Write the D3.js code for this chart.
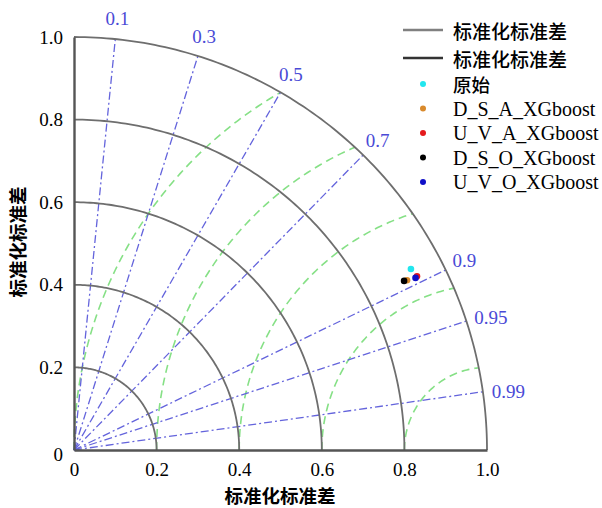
<!DOCTYPE html>
<html>
<head>
<meta charset="utf-8">
<script src="https://cdn.jsdelivr.net/npm/d3@7"></script>
<style>
  html, body { margin: 0; padding: 0; background: #fff; }
  svg { display: block; }
</style>
</head>
<body>
<svg id="chart" width="602" height="508"></svg>
<script>
// ---- data ----
const stdTickValues = [0, 0.2, 0.4, 0.6, 0.8, 1.0];
const stdTickLabels = ["0", "0.2", "0.4", "0.6", "0.8", "1.0"];
const stdArcValues = [0.2, 0.4, 0.6, 0.8, 1.0];
const corrValues = [0.1, 0.3, 0.5, 0.7, 0.9, 0.95, 0.99];
const corrLabels = ["0.1", "0.3", "0.5", "0.7", "0.9", "0.95", "0.99"];
const rmsRadii = [0.2, 0.4, 0.6, 0.8, 1.0];
const modelNames = ["原始", "D_S_A_XGboost", "U_V_A_XGboost", "D_S_O_XGboost", "U_V_O_XGboost"];
const modelStd = [0.926, 0.905, 0.931, 0.898, 0.926];
const modelCorr = [0.881, 0.891, 0.892, 0.890, 0.893];
const modelColors = ["#22e6ee", "#d98a2c", "#e41a1c", "#000000", "#1010c8"];
const axisTitle = "标准化标准差";
const legendLineNames = ["标准化标准差", "标准化标准差"];

// ---- layout ----
const svg = d3.select("#chart");
const x = d3.scaleLinear().domain([0, 1]).range([74, 487]);
const y = d3.scaleLinear().domain([0, 1]).range([450, 37]);
const serif = "'Liberation Serif', 'Times New Roman', serif";
const cjk = "'Noto Sans CJK SC', sans-serif";
const polar = (r, c) => [x(r * c), y(r * Math.sqrt(1 - c * c))];
const line = d3.line();

// green RMS arcs centred at (1,0)
const g = svg.append("g");
rmsRadii.forEach(R => {
  const phi0 = Math.acos(-R / 2);
  const pts = d3.range(0, 101).map(i => {
    const phi = Math.PI - (Math.PI - phi0) * i / 100;
    return [x(1 + R * Math.cos(phi)), y(R * Math.sin(phi))];
  });
  g.append("path").attr("d", line(pts))
    .attr("fill", "none").attr("stroke", "#86e086").attr("stroke-width", 1.6)
    .attr("stroke-dasharray", "8,5");
});

// correlation lines
corrValues.forEach((c, i) => {
  const p0 = polar(0, c), p1 = polar(1, c);
  g.append("path").attr("d", line([p0, p1]))
    .attr("fill", "none").attr("stroke", "#6464dc").attr("stroke-width", 1.3)
    .attr("stroke-dasharray", "8,3,2,3");
  const lp = polar(1.05, c);
  g.append("text").attr("x", lp[0] + (c > 0.92 ? 5 : 0)).attr("y", lp[1] + (c > 0.92 ? 3 : 0))
    .attr("text-anchor", "middle").attr("dominant-baseline", "central")
    .attr("font-family", serif).attr("font-size", 19).attr("fill", "#4a4ad6")
    .text(corrLabels[i]);
});

// std arcs
stdArcValues.forEach(r => {
  const pts = d3.range(0, 121).map(i => {
    const a = (Math.PI / 2) * i / 120;
    return [x(r * Math.cos(a)), y(r * Math.sin(a))];
  });
  g.append("path").attr("d", line(pts))
    .attr("fill", "none").attr("stroke", "#6e6e6e").attr("stroke-width", 1.8);
});

// axes
const xAxis = d3.axisBottom(x).tickValues(stdTickValues)
  .tickFormat((d, i) => stdTickLabels[i]).tickSize(0).tickPadding(13);
const yAxis = d3.axisLeft(y).tickValues(stdTickValues)
  .tickFormat((d, i) => stdTickLabels[i]).tickSize(0).tickPadding(11);
const gx = svg.append("g").attr("transform", `translate(0,${y(0)})`).call(xAxis);
const gy = svg.append("g").attr("transform", `translate(${x(0)},0)`).call(yAxis);
[gx, gy].forEach(a => {
  a.select(".domain").attr("stroke", "#555").attr("stroke-width", 2.4);
  a.selectAll("text").attr("font-family", serif).attr("font-size", 19).attr("fill", "#000");
});
gy.selectAll(".tick").filter(d => d === 0).select("text").attr("dy", "0.55em");

// axis titles
svg.append("text").attr("x", 280).attr("y", 495)
  .attr("text-anchor", "middle").attr("dominant-baseline", "central")
  .attr("font-family", cjk).attr("font-weight", 700).attr("font-size", 18.5)
  .text(axisTitle);
svg.append("text").attr("transform", `translate(17,242) rotate(-90)`)
  .attr("text-anchor", "middle").attr("dominant-baseline", "central")
  .attr("font-family", cjk).attr("font-weight", 700).attr("font-size", 18.5)
  .text(axisTitle);

// model points
modelNames.forEach((n, i) => {
  const p = polar(modelStd[i], modelCorr[i]);
  svg.append("circle").attr("cx", p[0]).attr("cy", p[1]).attr("r", 3.3)
    .attr("fill", modelColors[i]);
});

// legend
const lg = svg.append("g");
const legLineColors = ["#808080", "#333333"];
const legLineY = [30, 58];
legendLineNames.forEach((n, i) => {
  lg.append("line").attr("x1", 403).attr("x2", 443).attr("y1", legLineY[i]).attr("y2", legLineY[i])
    .attr("stroke", legLineColors[i]).attr("stroke-width", 2.6);
  lg.append("text").attr("x", 453).attr("y", legLineY[i]).attr("dominant-baseline", "central")
    .attr("font-family", cjk).attr("font-weight", 500).attr("font-size", 19).text(n);
});
modelNames.forEach((n, i) => {
  const yy = 84 + i * 24.5;
  lg.append("circle").attr("cx", 423).attr("cy", yy).attr("r", 3).attr("fill", modelColors[i]);
  lg.append("text").attr("x", 453).attr("y", yy).attr("dominant-baseline", "central")
    .attr("font-family", i === 0 ? cjk : serif).attr("font-weight", i === 0 ? 500 : 400)
    .attr("font-size", i === 0 ? 18.5 : 20).text(n);
});
</script>
</body>
</html>
